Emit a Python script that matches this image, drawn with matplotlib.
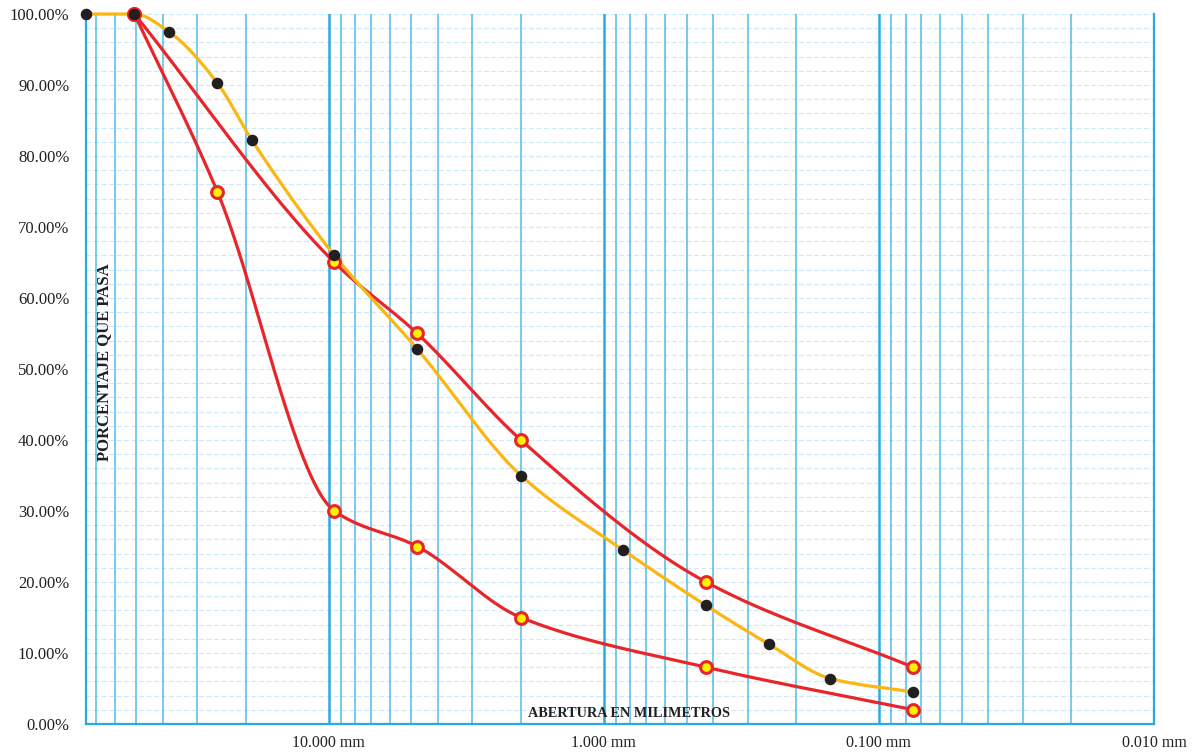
import numpy as np
import matplotlib.pyplot as plt
from matplotlib.ticker import FixedLocator, NullFormatter

# sieve openings (mm) and percent passing of the sample
abertura = [76.2, 50.8, 38.1, 25.4, 19.05, 9.525, 4.76, 2.00, 0.85, 0.425, 0.25, 0.15, 0.075]
pasa = [100.0, 100.0, 97.5, 90.3, 82.3, 66.0, 52.8, 35.0, 24.5, 16.7, 11.2, 6.4, 4.5]

# gradation band limits
sup_abertura = [50.8, 9.525, 4.76, 2.00, 0.425, 0.075]
sup_pasa = [100, 65, 55, 40, 20, 8]
inf_abertura = [50.8, 25.4, 9.525, 4.76, 2.00, 0.425, 0.075]
inf_pasa = [100, 75, 30, 25, 15, 8, 2]

x_ticks = [10, 1, 0.1, 0.01]
x_labels = ["10.000 mm", "1.000 mm", "0.100 mm", "0.010 mm"]
y_ticks = list(range(0, 101, 10))

TXT = "#231f20"
GRID = "#29abe2"


def smooth(xs, ys, n=40):
    # monotone cubic (pchip) through the points, x on log scale
    u = np.log10(np.array(xs, float))
    y = np.array(ys, float)
    h = np.diff(u)
    delta = np.diff(y) / h
    d = np.zeros_like(y)
    d[0], d[-1] = delta[0], delta[-1]
    for k in range(1, len(y) - 1):
        if delta[k - 1] * delta[k] <= 0:
            d[k] = 0
        else:
            w1 = 2 * h[k] + h[k - 1]
            w2 = h[k] + 2 * h[k - 1]
            d[k] = (w1 + w2) / (w1 / delta[k - 1] + w2 / delta[k])
    uu, yy = [], []
    t = np.linspace(0, 1, n)
    for k in range(len(h)):
        h00 = 2 * t ** 3 - 3 * t ** 2 + 1
        h10 = t ** 3 - 2 * t ** 2 + t
        h01 = -2 * t ** 3 + 3 * t ** 2
        h11 = t ** 3 - t ** 2
        yy.append(h00 * y[k] + h10 * h[k] * d[k] + h01 * y[k + 1] + h11 * h[k] * d[k + 1])
        uu.append(u[k] + t * h[k])
    return 10 ** np.concatenate(uu), np.concatenate(yy)


plt.rcParams["font.family"] = ["Liberation Serif", "DejaVu Serif"]

fig = plt.figure(figsize=(11.94, 7.53), dpi=100)
ax = fig.add_axes([86 / 1194, 29 / 753, (1154 - 86) / 1194, (724 - 14) / 753])

ax.set_xscale("log")
ax.set_xlim(76.2, 0.01)
ax.set_ylim(0, 100)

# grid
minor_x = [m * 10.0 ** d for d in range(-2, 2) for m in range(2, 10)]
minor_x = [v for v in minor_x if 0.01 < v < 76.2]
for v in minor_x:
    ax.axvline(v, color=GRID, lw=1.1, alpha=0.8, zorder=1)
for v in [10, 1, 0.1]:
    ax.axvline(v, color=GRID, lw=1.8, zorder=1)
for v in np.arange(2, 101, 2):
    ax.axhline(v, color="#cdeaf8", lw=0.9, ls=(0, (4, 2)), zorder=0.5)

ax.spines["top"].set_visible(False)
for s in ["left", "right", "bottom"]:
    ax.spines[s].set_color(GRID)
    ax.spines[s].set_linewidth(1.6)

ax.xaxis.set_major_locator(FixedLocator(x_ticks))
ax.set_xticklabels(x_labels)
ax.xaxis.set_minor_formatter(NullFormatter())
ax.xaxis.set_minor_locator(FixedLocator([]))
ax.set_yticks(y_ticks)
ax.set_yticklabels([f"{v:.2f}%" for v in y_ticks])
ax.tick_params(axis="both", length=0, labelsize=12, colors=TXT)
ax.tick_params(axis="x", pad=8, labelsize=11.5)
ax.tick_params(axis="y", pad=12)

# curves
xs, ys = smooth(sup_abertura, sup_pasa)
ax.plot(xs, ys, color="#e8262a", lw=2.3, zorder=3, clip_on=False)
xs, ys = smooth(inf_abertura, inf_pasa)
ax.plot(xs, ys, color="#e8262a", lw=2.3, zorder=3, clip_on=False)
xs, ys = smooth(abertura, pasa)
ax.plot(xs, ys, color="#fbb614", lw=2.3, zorder=4, clip_on=False)

ax.plot(sup_abertura, sup_pasa, ls="none", marker="o", ms=8.5, mfc="#fff200",
        mec="#e8262a", mew=2.2, zorder=5, clip_on=False)
ax.plot(inf_abertura, inf_pasa, ls="none", marker="o", ms=8.5, mfc="#fff200",
        mec="#e8262a", mew=2.2, zorder=5, clip_on=False)
ax.plot(abertura, pasa, ls="none", marker="o", ms=7.3, color="#231f20", zorder=6, clip_on=False)

# axis titles inside the plot
ax.text(0.017, 0.51, "PORCENTAJE QUE PASA", transform=ax.transAxes, rotation=90,
        ha="center", va="center", fontsize=12, fontweight="bold", color=TXT, zorder=2)
ax.text(0.508, 0.006, "ABERTURA EN MILIMETROS", transform=ax.transAxes,
        ha="center", va="bottom", fontsize=10.3, fontweight="bold", color=TXT, zorder=2)

fig.savefig("out.png", dpi=100)
